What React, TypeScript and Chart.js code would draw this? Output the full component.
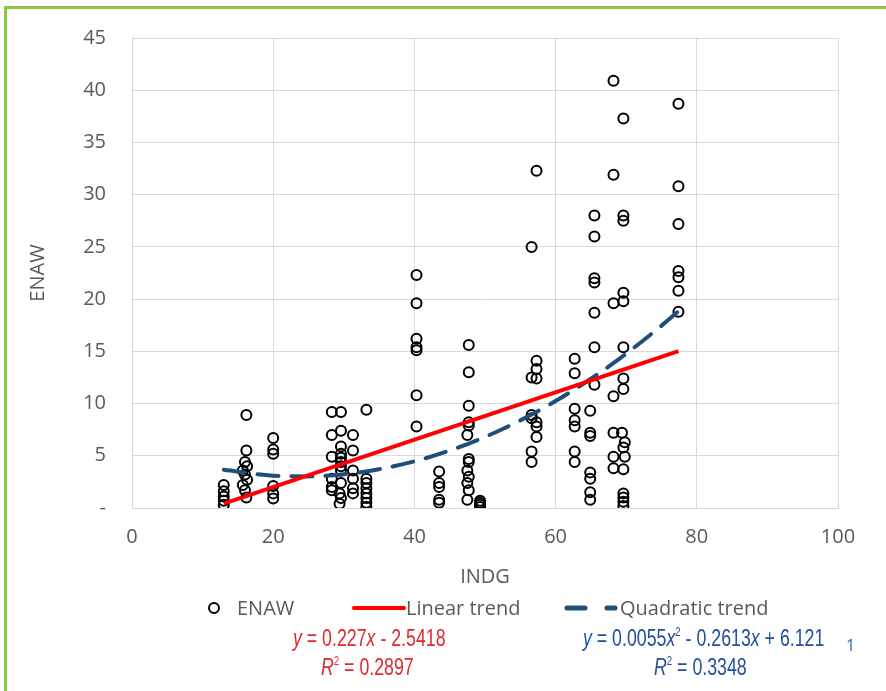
import React, { useEffect, useRef } from "react";
import { Chart, registerables } from "chart.js";

Chart.register(...registerables);

const indg: number[] = [
  13.0, 13.0, 13.0, 13.0, 13.0,
  16.2, 16.2, 16.0, 16.3, 15.7, 16.0, 16.3, 15.7, 16.0, 16.2,
  20.0, 20.0, 20.0, 20.0, 20.0, 20.0,
  28.3, 28.3, 28.3, 28.3, 28.3, 28.3,
  29.6, 29.6, 29.6, 29.6, 29.6, 29.6, 29.6, 29.6, 29.6, 29.4, 29.6, 29.4,
  31.3, 31.3, 31.3, 31.3, 31.3, 31.3,
  33.2, 33.2, 33.2, 33.2, 33.2, 33.2, 33.2, 33.2,
  40.3, 40.3, 40.3, 40.3, 40.3, 40.3, 40.3,
  43.5, 43.5, 43.5, 43.5, 43.5,
  47.7, 47.7, 47.7, 47.7, 47.7, 47.5, 47.7, 47.7, 47.5, 47.7, 47.5, 47.7, 47.5,
  49.3, 49.3, 49.3, 49.3,
  56.6, 56.6, 56.6, 56.6, 56.6, 56.6,
  57.3, 57.3, 57.3, 57.3, 57.3, 57.3, 57.3,
  62.7, 62.7, 62.7, 62.7, 62.7, 62.7, 62.7,
  64.9, 64.9, 64.9, 64.9, 64.9, 64.9, 64.9,
  65.5, 65.5, 65.5, 65.5, 65.5, 65.5, 65.5,
  68.2, 68.2, 68.2, 68.2, 68.2, 68.2, 68.2,
  69.6, 69.6, 69.6, 69.6, 69.6, 69.6, 69.6, 69.6, 69.4, 69.8, 69.6, 69.8, 69.6, 69.6, 69.6, 69.6, 69.6,
  77.4, 77.4, 77.4, 77.4, 77.4, 77.4, 77.4,
];
const enaw: number[] = [
  2.2, 1.6, 1.1, 0.7, 0.3,
  8.9, 5.5, 4.4, 4.0, 3.6, 3.2, 2.7, 2.2, 1.7, 1.0,
  6.7, 5.6, 5.2, 2.1, 1.4, 0.9,
  9.2, 7.0, 4.9, 2.8, 2.0, 1.7,
  9.2, 7.4, 5.9, 5.2, 4.8, 4.4, 4.0, 3.6, 2.4, 1.4, 0.95, 0.4,
  7.0, 5.5, 3.6, 2.8, 1.9, 1.4,
  9.4, 2.8, 2.4, 1.9, 1.4, 0.95, 0.5, 0.1,
  22.3, 19.6, 16.2, 15.4, 15.1, 10.8, 7.8,
  3.5, 2.4, 2.0, 0.8, 0.5,
  15.6, 13.0, 9.8, 8.2, 7.9, 7.0, 4.7, 4.4, 3.6, 3.0, 2.4, 1.7, 0.8,
  0.7, 0.5, 0.3, 0.1,
  25.0, 12.5, 8.9, 8.6, 5.4, 4.4,
  32.3, 14.1, 13.3, 12.4, 8.2, 7.8, 6.8,
  14.3, 12.9, 9.5, 8.4, 7.8, 5.4, 4.4,
  9.3, 7.2, 6.9, 3.4, 2.8, 1.5, 0.8,
  28.0, 26.0, 22.0, 21.6, 18.7, 15.4, 11.8,
  40.9, 31.9, 19.6, 10.7, 7.2, 4.9, 3.8,
  37.3, 28.0, 27.5, 20.6, 19.8, 15.4, 12.4, 11.4, 7.2, 6.3, 5.8, 4.9, 3.7, 1.4, 1.0, 0.6, 0.2,
  38.7, 30.8, 27.2, 22.7, 22.1, 20.8, 18.8,
];

// Trend lines (values of the fitted curves as printed on the chart)
const linearX: number[] = [13.0, 77.4];
const linearY: number[] = [0.409, 15.028];
const quadX: number[] = [13, 20, 25, 30, 35, 40, 45, 50, 55, 60, 65, 70, 75, 77.4];
const quadY: number[] = [3.654, 3.095, 3.026, 3.232, 3.713, 4.469, 5.5, 6.806, 8.387, 10.243, 12.374, 14.78, 17.461, 18.846];

const xTicks: number[] = [0, 20, 40, 60, 80, 100];
const yTicks: number[] = [0, 5, 10, 15, 20, 25, 30, 35, 40, 45];

const GRAY = "#595959";
const TICK_FONT = { family: "'Open Sans', sans-serif", size: 20 };

export default function App() {
  const ref = useRef<HTMLCanvasElement | null>(null);

  useEffect(() => {
    if (!ref.current) return;
    const chart = new Chart(ref.current, {
      type: "scatter",
      data: {
        datasets: [
          {
            label: "ENAW",
            data: indg.map((x, i) => ({ x, y: enaw[i] })),
            pointStyle: "circle",
            pointRadius: 5,
            pointBorderWidth: 2,
            pointBackgroundColor: "rgba(0,0,0,0)",
            pointBorderColor: "#000000",
            borderColor: "#000000",
            backgroundColor: "rgba(0,0,0,0)",
            order: 3,
          },
          {
            label: "Linear trend",
            data: linearX.map((x, i) => ({ x, y: linearY[i] })),
            showLine: true,
            pointRadius: 0,
            borderColor: "#ff0000",
            borderWidth: 4,
            order: 1,
          },
          {
            label: "Quadratic trend",
            data: quadX.map((x, i) => ({ x, y: quadY[i] })),
            showLine: true,
            pointRadius: 0,
            borderColor: "#1f4e79",
            borderWidth: 4,
            borderDash: [21, 13],
            borderCapStyle: "round",
            tension: 0.4,
            cubicInterpolationMode: "monotone",
            order: 2,
          },
        ],
      },
      options: {
        animation: false,
        responsive: false,
        maintainAspectRatio: false,
        devicePixelRatio: 1,
        layout: { padding: { left: 0, right: 48, top: 37, bottom: 0 } },
        plugins: { legend: { display: false }, tooltip: { enabled: false } },
        scales: {
          x: {
            type: "linear",
            min: 0,
            max: 100,
            afterBuildTicks: (s: any) => {
              s.ticks = xTicks.map((v) => ({ value: v }));
            },
            afterFit: (s: any) => {
              s.height = 87;
            },
            ticks: { font: TICK_FONT, color: GRAY, padding: 17 },
            grid: { color: "#d9d9d9", drawTicks: false, lineWidth: 1 },
            border: { display: true, color: "#d9d9d9" },
            title: {
              display: true,
              text: "INDG",
              color: GRAY,
              font: { family: "'Open Sans', sans-serif", size: 20 },
              padding: { top: 0, bottom: 6 },
            },
          },
          y: {
            type: "linear",
            min: 0,
            max: 45,
            afterBuildTicks: (s: any) => {
              s.ticks = yTicks.map((v) => ({ value: v }));
            },
            afterFit: (s: any) => {
              s.width = 132;
            },
            ticks: {
              font: TICK_FONT,
              color: GRAY,
              padding: 26,
              callback: (v: any) => (Number(v) === 0 ? "-" : String(v)),
            },
            grid: { color: "#d9d9d9", drawTicks: false, lineWidth: 1 },
            border: { display: true, color: "#d9d9d9" },
            title: {
              display: true,
              text: "ENAW",
              color: GRAY,
              font: { family: "'Open Sans', sans-serif", size: 20 },
              padding: { top: 26, bottom: 0 },
            },
          },
        },
      },
    } as any);
    return () => chart.destroy();
  }, []);

  const legendText: React.CSSProperties = {
    position: "absolute",
    top: 594,
    height: 28,
    lineHeight: "28px",
    fontFamily: "'Open Sans', sans-serif",
    fontSize: 20,
    color: GRAY,
    whiteSpace: "nowrap",
  };
  const eq: React.CSSProperties = {
    position: "absolute",
    fontFamily: "'Liberation Sans', Arial, sans-serif",
    fontSize: 24,
    lineHeight: "28px",
    height: 28,
    whiteSpace: "nowrap",
    transform: "scaleX(0.74)",
    transformOrigin: "0 50%",
  };
  const it: React.CSSProperties = { fontStyle: "italic" };
  const sup: React.CSSProperties = { fontSize: 13, verticalAlign: "10px", lineHeight: 0 };
  const RED = "#dc2a2e";
  const BLUE = "#234f9c";

  return (
    <div style={{ position: "absolute", left: 0, top: 0, width: 886, height: 691, background: "#ffffff", overflow: "hidden" }}>
      <canvas ref={ref} width={886} height={595} style={{ position: "absolute", left: 0, top: 0, width: 886, height: 595 }} />
      <div style={{ position: "absolute", left: 4, top: 6, width: 900, height: 700, borderTop: "3px solid #8dc641", borderLeft: "3px solid #8dc641" }} />

      <svg style={{ position: "absolute", left: 0, top: 594 }} width={886} height={28}>
        <circle cx={214} cy={14} r={5} fill="none" stroke="#000" strokeWidth={2} />
        <line x1={354} y1={14} x2={404} y2={14} stroke="#ff0000" strokeWidth={4} strokeLinecap="round" />
        <line x1={567} y1={14} x2={615} y2={14} stroke="#1f4e79" strokeWidth={5} strokeDasharray="18 22" strokeLinecap="round" />
      </svg>
      <div style={{ ...legendText, left: 237 }}>ENAW</div>
      <div style={{ ...legendText, left: 406 }}>Linear trend</div>
      <div style={{ ...legendText, left: 620 }}>Quadratic trend</div>

      <div style={{ ...eq, color: RED, left: 293, top: 624 }}>
        <span style={it}>y</span> = 0.227<span style={it}>x</span> - 2.5418
      </div>
      <div style={{ ...eq, color: RED, left: 321, top: 653 }}>
        <span style={it}>R</span><span style={sup}>2</span> = 0.2897
      </div>
      <div style={{ ...eq, color: BLUE, left: 583, top: 624 }}>
        <span style={it}>y</span> = 0.0055<span style={it}>x</span><span style={sup}>2</span> - 0.2613<span style={it}>x</span> + 6.121
      </div>
      <div style={{ ...eq, color: BLUE, left: 654, top: 653 }}>
        <span style={it}>R</span><span style={sup}>2</span> = 0.3348
      </div>
      <div style={{ position: "absolute", left: 846, top: 634, fontFamily: "'Open Sans', sans-serif", fontSize: 16, lineHeight: "22px", color: "#2e5da8" }}>1</div>
    </div>
  );
}
